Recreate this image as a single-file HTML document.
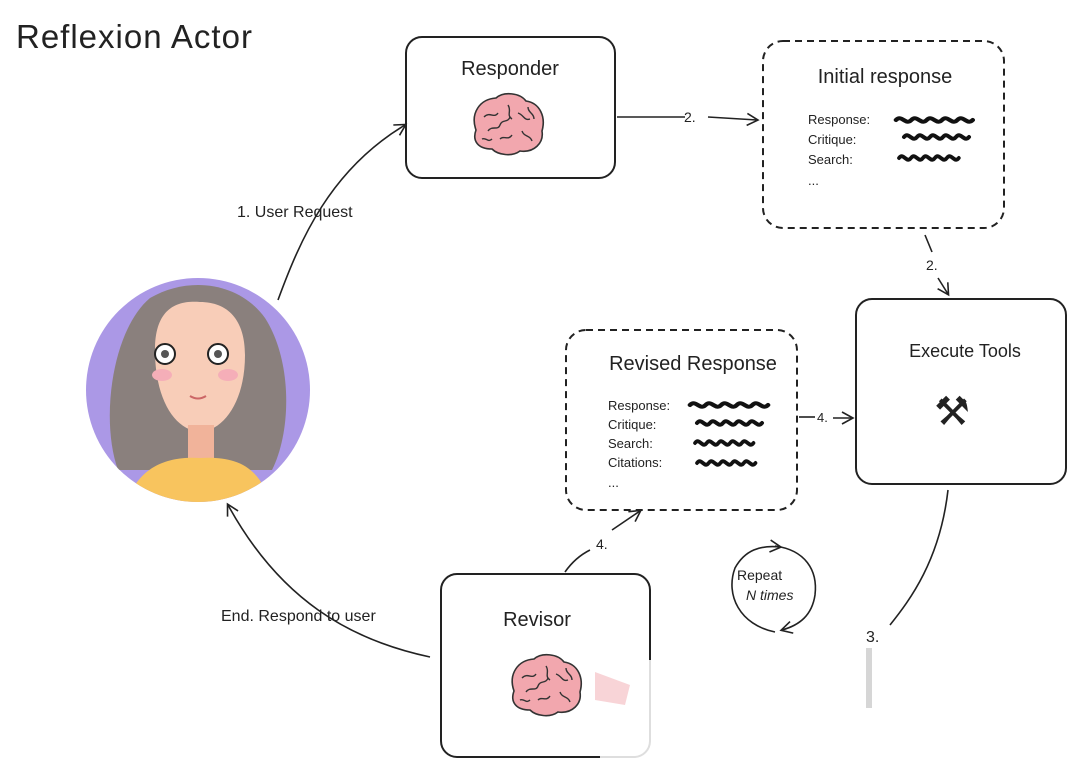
<!DOCTYPE html>
<html><head><meta charset="utf-8"><style>
html,body{margin:0;padding:0;background:#fff;}
svg{display:block}
text{font-family:"Liberation Sans",sans-serif;fill:#222}
</style></head><body>
<svg width="1080" height="762" viewBox="0 0 1080 762" xmlns="http://www.w3.org/2000/svg">
<defs>
<marker id="ah" markerWidth="14" markerHeight="14" refX="11" refY="7" orient="auto" markerUnits="userSpaceOnUse">
<path d="M1,1 L12,7 L1,13" fill="none" stroke="#222" stroke-width="1.6"/>
</marker>
<clipPath id="cc"><circle cx="198" cy="390" r="112"/></clipPath>
<g id="brain">
<path d="M-32,5 C-38,-12 -28,-26 -12,-27 C-4,-34 12,-32 18,-24 C32,-22 38,-8 34,6 C36,18 26,28 12,26 C4,32 -10,30 -16,24 C-30,24 -36,16 -32,5Z" fill="#f2a7ae" stroke="#333" stroke-width="1.6"/>
<path d="M-24,-8 c6,-6 10,2 14,-4 M-20,6 c4,-6 10,0 12,-6 c2,-6 8,-2 10,-8 M0,-20 c4,6 -2,10 4,14 M10,-12 c6,2 6,8 12,6 M-8,14 c4,-4 8,2 12,-4 M14,6 c2,6 8,4 10,10 M-26,14 c4,-2 6,4 10,0 M20,-18 c0,6 6,6 6,12" fill="none" stroke="#333" stroke-width="1.4"/>
</g>
<g id="sq">
<path d="M0,0 c5,-6 8,6 13,0 c5,-6 8,6 13,0 c5,-6 8,6 13,0 c5,-6 8,6 13,0 c5,-6 8,6 13,0" fill="none" stroke="#111" stroke-width="4" stroke-linecap="round"/>
</g>
</defs>

<text x="16" y="48" font-size="33" letter-spacing="1">Reflexion Actor</text>

<!-- Responder -->
<rect x="406" y="37" width="209" height="141" rx="16" fill="#fff" stroke="#222" stroke-width="2"/>
<text x="510" y="75" font-size="20" text-anchor="middle">Responder</text>
<use href="#brain" transform="translate(508,125)"/>

<!-- Initial response -->
<rect x="763" y="41" width="241" height="187" rx="20" fill="none" stroke="#222" stroke-width="2" stroke-dasharray="7,5"/>
<text x="885" y="83" font-size="20" text-anchor="middle">Initial response</text>
<text x="808" y="124" font-size="13">Response:</text>
<text x="808" y="144" font-size="13">Critique:</text>
<text x="808" y="164" font-size="13">Search:</text>
<text x="808" y="185" font-size="13">...</text>
<use href="#sq" transform="translate(896,120) scale(1.18,1)"/>
<use href="#sq" transform="translate(904,137)"/>
<use href="#sq" transform="translate(899,158) scale(0.92,1)"/>

<!-- Execute Tools -->
<rect x="856" y="299" width="210" height="185" rx="16" fill="#fff" stroke="#222" stroke-width="2"/>
<text x="965" y="357" font-size="18" text-anchor="middle">Execute Tools</text>
<text x="952" y="425" font-size="40" text-anchor="middle" style="font-family:'DejaVu Sans',sans-serif">⚒</text>

<!-- Revised Response -->
<rect x="566" y="330" width="231" height="180" rx="20" fill="none" stroke="#222" stroke-width="2" stroke-dasharray="7,5"/>
<text x="693" y="370" font-size="20" text-anchor="middle">Revised Response</text>
<text x="608" y="410" font-size="13">Response:</text>
<text x="608" y="429" font-size="13">Critique:</text>
<text x="608" y="448" font-size="13">Search:</text>
<text x="608" y="467" font-size="13">Citations:</text>
<text x="608" y="487" font-size="13">...</text>
<use href="#sq" transform="translate(690,405) scale(1.2,1)"/>
<use href="#sq" transform="translate(697,423)"/>
<use href="#sq" transform="translate(695,443) scale(0.9,1)"/>
<use href="#sq" transform="translate(697,463) scale(0.9,1)"/>

<!-- Revisor -->
<rect x="441" y="574" width="209" height="183" rx="16" fill="#fff" stroke="#222" stroke-width="2"/>
<text x="537" y="626" font-size="20" text-anchor="middle">Revisor</text>
<use href="#brain" transform="translate(546,686)"/>
<rect x="600" y="660" width="80" height="100" fill="#fff" opacity="0.85"/>
<path d="M595,672 L630,685 L625,705 L595,700Z" fill="#f3b8bd" opacity="0.6"/>

<!-- Avatar -->
<circle cx="198" cy="390" r="112" fill="#ab98e6"/>
<g clip-path="url(#cc)">
<path d="M118,470 C100,420 112,330 150,298 C190,275 240,283 265,318 C292,360 292,430 272,470 Z" fill="#8a807d"/>
<path d="M155,350 C155,310 175,300 200,302 C228,302 245,320 245,355 C245,400 225,430 200,432 C175,430 155,400 155,350Z" fill="#f8cdb8"/>
<rect x="188" y="425" width="26" height="40" fill="#f1b39a"/>
<path d="M125,510 C135,465 170,456 200,458 C235,456 262,465 272,510 Z" fill="#f8c45e"/>
</g>
<circle cx="165" cy="354" r="10" fill="#fff" stroke="#222" stroke-width="2"/>
<circle cx="165" cy="354" r="4" fill="#555"/>
<circle cx="218" cy="354" r="10" fill="#fff" stroke="#222" stroke-width="2"/>
<circle cx="218" cy="354" r="4" fill="#555"/>
<ellipse cx="162" cy="375" rx="10" ry="6" fill="#f5aeb8"/>
<ellipse cx="228" cy="375" rx="10" ry="6" fill="#f5aeb8"/>
<path d="M190,396 q8,5 16,0" fill="none" stroke="#c66" stroke-width="2"/>

<!-- Connectors -->
<path d="M278,300 C300,240 330,170 405,125" fill="none" stroke="#222" stroke-width="1.6" marker-end="url(#ah)"/>
<text x="237" y="217" font-size="16">1. User Request</text>

<path d="M617,117 L685,117" fill="none" stroke="#222" stroke-width="1.6"/>
<text x="684" y="122" font-size="14">2.</text>
<path d="M708,117 L757,120" fill="none" stroke="#222" stroke-width="1.6" marker-end="url(#ah)"/>

<path d="M925,235 L932,252" fill="none" stroke="#222" stroke-width="1.6"/>
<text x="926" y="270" font-size="14">2.</text>
<path d="M938,278 L948,294" fill="none" stroke="#222" stroke-width="1.6" marker-end="url(#ah)"/>

<path d="M799,417 L815,417" fill="none" stroke="#222" stroke-width="1.6"/>
<text x="817" y="422" font-size="13">4.</text>
<path d="M833,418 L852,418" fill="none" stroke="#222" stroke-width="1.6" marker-end="url(#ah)"/>

<path d="M948,490 C940,560 910,600 890,625" fill="none" stroke="#222" stroke-width="1.6"/>
<text x="866" y="642" font-size="16">3.</text>
<rect x="866" y="648" width="6" height="60" fill="#bbb" opacity="0.6"/>

<path d="M565,572 C572,562 580,555 590,550" fill="none" stroke="#222" stroke-width="1.6"/>
<text x="596" y="549" font-size="14">4.</text>
<path d="M612,530 L640,511" fill="none" stroke="#222" stroke-width="1.6" marker-end="url(#ah)"/>

<path d="M430,657 C350,640 280,600 228,505" fill="none" stroke="#222" stroke-width="1.6" marker-end="url(#ah)"/>
<text x="221" y="621" font-size="16">End. Respond to user</text>

<path d="M775,632 C740,625 725,595 735,568 C745,550 760,545 780,547" fill="none" stroke="#222" stroke-width="1.6" marker-end="url(#ah)"/>
<path d="M775,546 C805,550 818,570 815,595 C812,615 800,625 782,630" fill="none" stroke="#222" stroke-width="1.6" marker-end="url(#ah)"/>
<text x="737" y="580" font-size="14">Repeat</text>
<text x="746" y="600" font-size="14" font-style="italic">N times</text>
</svg>
</body></html>
